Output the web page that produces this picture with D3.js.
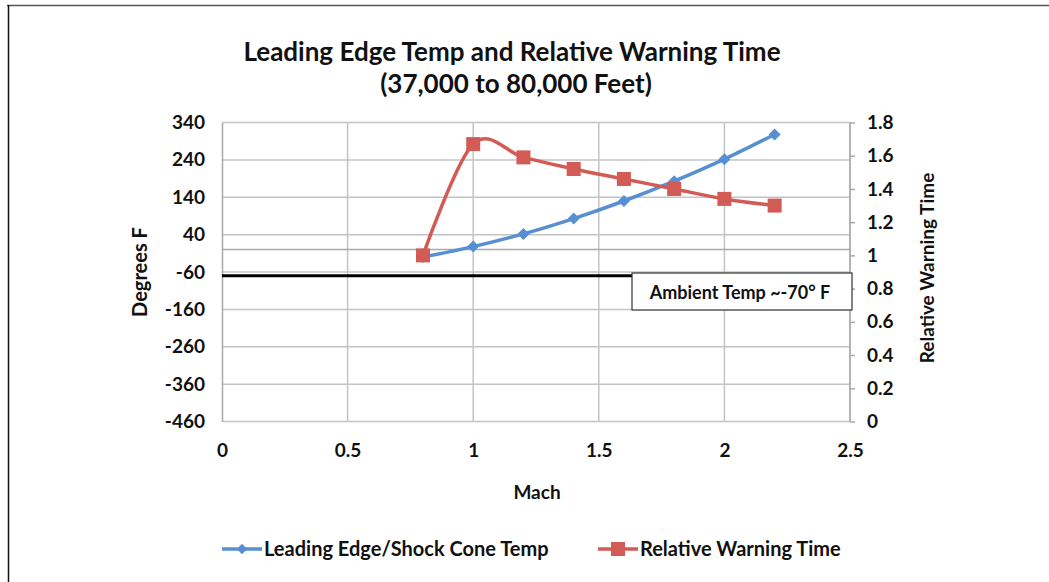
<!DOCTYPE html>
<html>
<head>
<meta charset="utf-8">
<script src="https://d3js.org/d3.v7.min.js"></script>
<style>
  html, body { margin: 0; padding: 0; background: #fff; }
  svg { display: block; }
  text { font-family: Lato, "Open Sans", sans-serif; font-weight: bold; fill: #111; }
</style>
</head>
<body>
<svg id="chart" width="1049" height="582"></svg>
<script>
// Mach numbers sampled
const mach = [0.8, 1.0, 1.2, 1.4, 1.6, 1.8, 2.0, 2.2];
// Leading edge / shock cone temperature, degrees F
const edgeTemp = [-20, 8, 42, 83, 130, 183, 242, 308];
// Relative warning time (unitless)
const warnTime = [1.0, 1.67, 1.59, 1.52, 1.46, 1.40, 1.34, 1.30];
// Axis ticks
const xTicks = [0, 0.5, 1, 1.5, 2, 2.5];
const leftTicks = [340, 240, 140, 40, -60, -160, -260, -360, -460];
const rightTicks = [0, 0.2, 0.4, 0.6, 0.8, 1, 1.2, 1.4, 1.6, 1.8];
// Ambient reference temperature
const ambientTemp = -70;

const blue = "#5790D2";
const red = "#D35B56";
const gridColor = "#C4C4C4";
const axisColor = "#A9A9A9";
const tickFont = "19px";

const svg = d3.select("#chart");
const plot = { left: 222, right: 850, top: 122.5, bottom: 421.5 };

const x = d3.scaleLinear().domain([0, 2.5]).range([plot.left, plot.right]);
const yL = d3.scaleLinear().domain([-460, 340]).range([plot.bottom, plot.top]);
const yR = d3.scaleLinear().domain([0, 1.8]).range([plot.bottom, plot.top]);

// Frame lines of the picture
svg.append("line").attr("x1", 7).attr("x2", 1049).attr("y1", 5.5).attr("y2", 5.5)
  .attr("stroke", "#555").attr("stroke-width", 1.5);
svg.append("line").attr("x1", 8.5).attr("x2", 8.5).attr("y1", 5).attr("y2", 582)
  .attr("stroke", "#111").attr("stroke-width", 1.5);

// Title
svg.append("text").attr("x", 512).attr("y", 61).attr("text-anchor", "middle")
  .style("font-size", "26px").text("Leading Edge Temp and Relative Warning Time");
svg.append("text").attr("x", 516).attr("y", 93).attr("text-anchor", "middle")
  .style("font-size", "26px").text("(37,000 to 80,000 Feet)");

// Horizontal gridlines (left axis)
svg.append("g").attr("class", "hgrid")
  .selectAll("line").data(leftTicks).join("line")
  .attr("x1", plot.left).attr("x2", plot.right)
  .attr("y1", d => yL(d)).attr("y2", d => yL(d))
  .attr("stroke", gridColor).attr("stroke-width", 1.5);

// Vertical gridlines
svg.append("g").attr("class", "vgrid")
  .selectAll("line").data(xTicks.filter(d => d > 0)).join("line")
  .attr("x1", d => x(d)).attr("x2", d => x(d))
  .attr("y1", plot.top).attr("y2", plot.bottom)
  .attr("stroke", gridColor).attr("stroke-width", 1.5);

// Horizontal category axis crossing at zero degrees
svg.append("line").attr("x1", plot.left).attr("x2", plot.right)
  .attr("y1", yL(0)).attr("y2", yL(0))
  .attr("stroke", axisColor).attr("stroke-width", 1.5);

// Left value axis
const leftAxis = d3.axisLeft(yL).tickValues(leftTicks).tickSize(0).tickPadding(17)
  .tickFormat(d => String(d));
const gL = svg.append("g").attr("transform", `translate(${plot.left},0)`).call(leftAxis);
gL.select(".domain").attr("stroke", axisColor).attr("stroke-width", 1.5);
gL.selectAll("text").style("font-size", tickFont).style("font-family", "Lato, sans-serif").attr("fill", "#111");

// Right value axis
const rightAxis = d3.axisRight(yR).tickValues(rightTicks).tickSize(5).tickPadding(12)
  .tickFormat(d => d3.format("~g")(d));
const gR = svg.append("g").attr("transform", `translate(${plot.right},0)`).call(rightAxis);
gR.select(".domain").attr("stroke", axisColor).attr("stroke-width", 1.5).attr("d", `M0,${plot.top}V${plot.bottom}`);
gR.selectAll(".tick line").attr("stroke", axisColor).attr("stroke-width", 1.5);
gR.selectAll("text").style("font-size", tickFont).style("font-family", "Lato, sans-serif").attr("fill", "#111");

// Bottom tick labels (placed low, below the plot)
const bottomAxis = d3.axisBottom(x).tickValues(xTicks).tickSize(0).tickPadding(22)
  .tickFormat(d => d3.format("~g")(d));
const gB = svg.append("g").attr("transform", `translate(0,${plot.bottom})`).call(bottomAxis);
gB.select(".domain").remove();
gB.selectAll("text").style("font-size", tickFont).style("font-family", "Lato, sans-serif").attr("fill", "#111");

// Axis titles
svg.append("text").attr("transform", "translate(147,272) rotate(-90)")
  .attr("text-anchor", "middle").style("font-size", "20px").text("Degrees F");
svg.append("text").attr("transform", "translate(934,268) rotate(-90)")
  .attr("text-anchor", "middle").style("font-size", "19px").text("Relative Warning Time");
svg.append("text").attr("x", 537).attr("y", 499).attr("text-anchor", "middle")
  .style("font-size", "19px").text("Mach");

// Ambient temperature reference line and its label box
const boxLeft = 632, boxRight = 852, boxTop = 273, boxBottom = 310;
svg.append("line").attr("x1", x(0)).attr("x2", boxLeft)
  .attr("y1", yL(ambientTemp)).attr("y2", yL(ambientTemp))
  .attr("stroke", "#000").attr("stroke-width", 3);
svg.append("rect").attr("x", boxLeft).attr("y", boxTop)
  .attr("width", boxRight - boxLeft).attr("height", boxBottom - boxTop)
  .attr("fill", "#fff").attr("stroke", "#333").attr("stroke-width", 1.2);
svg.append("text").attr("x", (boxLeft + boxRight) / 2 - 2).attr("y", 299)
  .attr("text-anchor", "middle").style("font-size", "18px")
  .text("Ambient Temp ~-70° F");

// Series
const tempPts = mach.map((m, i) => [x(m), yL(edgeTemp[i])]);
const warnPts = mach.map((m, i) => [x(m), yR(warnTime[i])]);
const smooth = d3.line().curve(d3.curveCardinal.tension(0));

svg.append("path").attr("d", smooth(tempPts)).attr("fill", "none")
  .attr("stroke", blue).attr("stroke-width", 3.5).attr("stroke-linejoin", "round");
svg.append("path").attr("d", smooth(warnPts)).attr("fill", "none")
  .attr("stroke", red).attr("stroke-width", 3.5).attr("stroke-linejoin", "round");

svg.append("g").selectAll("path").data(tempPts).join("path")
  .attr("d", d3.symbol().type(d3.symbolSquare).size(72))
  .attr("transform", d => `translate(${d[0]},${d[1]}) rotate(45)`)
  .attr("fill", blue);

svg.append("g").selectAll("rect").data(warnPts).join("rect")
  .attr("x", d => d[0] - 7).attr("y", d => d[1] - 7)
  .attr("width", 14).attr("height", 14).attr("fill", red);

// Legend
const legendY = 549;
const leg1 = svg.append("g");
leg1.append("line").attr("x1", 222).attr("x2", 262).attr("y1", legendY).attr("y2", legendY)
  .attr("stroke", blue).attr("stroke-width", 3.5);
leg1.append("path").attr("d", d3.symbol().type(d3.symbolSquare).size(55))
  .attr("transform", `translate(242,${legendY}) rotate(45)`).attr("fill", blue);
leg1.append("text").attr("x", 264).attr("y", legendY + 7).style("font-size", "20px")
  .text("Leading Edge/Shock Cone Temp");

const leg2 = svg.append("g");
leg2.append("line").attr("x1", 598).attr("x2", 638).attr("y1", legendY).attr("y2", legendY)
  .attr("stroke", red).attr("stroke-width", 3.5);
leg2.append("rect").attr("x", 611).attr("y", legendY - 7).attr("width", 14).attr("height", 14)
  .attr("fill", red);
leg2.append("text").attr("x", 640).attr("y", legendY + 7).style("font-size", "20px")
  .text("Relative Warning Time");
</script>
</body>
</html>
